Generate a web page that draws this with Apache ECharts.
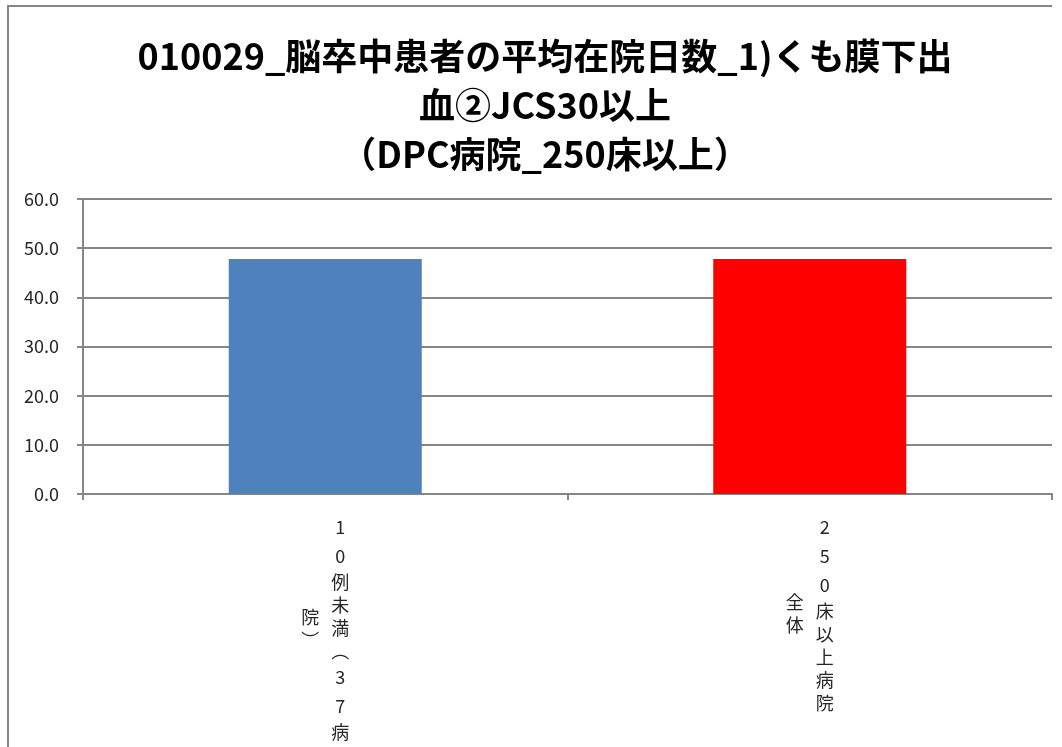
<!DOCTYPE html>
<html>
<head>
<meta charset="utf-8">
<script src="https://cdn.jsdelivr.net/npm/echarts@6/dist/echarts.min.js"></script>
<style>
  html, body { margin: 0; padding: 0; background: #fff; }
  #chart { width: 1062px; height: 747px; }
</style>
</head>
<body>
<div id="chart"></div>
<script>
// data
var titleLines = ['010029_脳卒中患者の平均在院日数_1)くも膜下出', '血②JCS30以上', '（DPC病院_250床以上）'];
var categories = ['10例未満（37病院）', '250床以上病院 全体'];
var values = [47.8, 47.8];
var barColors = ['#4F81BD', '#FF0000'];
var yTicks = [0, 10, 20, 30, 40, 50, 60];

var FONT = '"Noto Sans CJK JP", "Noto Sans", sans-serif';
var AXIS_COLOR = '#868686';
var TEXT_COLOR = '#262626';
var COL_LEN = 9;      // chars per vertical column
var LH_DIGIT = 29;
var LH_CJK = 23;

// vertical text: brackets turn into their vertical forms
function vert(ch) {
  if (ch === '（' || ch === '(') return '︵';
  if (ch === '）' || ch === ')') return '︶';
  return ch;
}
function isNarrow(ch) { return /[0-9A-Za-z]/.test(ch); }
function colHeight(chars) {
  return chars.reduce(function (s, ch) { return s + (isNarrow(ch) ? LH_DIGIT : LH_CJK); }, 0);
}
function columns(label) {
  var chars = label.split('');
  var right = chars.slice(0, COL_LEN).join('').trim().split('');
  var left = chars.slice(COL_LEN).join('').trim().split('');
  return { right: right, left: left };
}
function colText(chars) {
  return chars.map(function (ch) {
    return (isNarrow(ch) ? '{d|' : '{c|') + vert(ch) + '}';
  }).join('\n');
}

var baseRich = {
  d: { fontSize: 18, lineHeight: LH_DIGIT, color: TEXT_COLOR, fontFamily: FONT, align: 'center' },
  c: { fontSize: 18, lineHeight: LH_CJK, color: TEXT_COLOR, fontFamily: FONT, align: 'center' }
};
// spacer rows so the second column sits in the middle of the first
var leftRich = Object.assign({}, baseRich);
categories.forEach(function (cat, i) {
  var cols = columns(cat);
  var gap = Math.max(1, (colHeight(cols.right) - colHeight(cols.left)) / 2);
  leftRich['sp' + i] = { fontSize: 1, lineHeight: gap, height: gap };
});

var chart = echarts.init(document.getElementById('chart'));
chart.setOption({
  backgroundColor: '#fff',
  animation: false,
  title: {
    text: titleLines.join('\n'),
    left: 540,
    top: 27,
    textAlign: 'center',
    textStyle: {
      fontFamily: FONT,
      fontSize: 36,
      fontWeight: 'bold',
      lineHeight: 49,
      color: '#000'
    }
  },
  graphic: [{
    type: 'polyline',
    shape: { points: [[8, 747], [8, 6], [1052, 6]] },
    style: { stroke: AXIS_COLOR, lineWidth: 2, fill: null },
    silent: true
  }],
  grid: { left: 83, right: 10, top: 199, bottom: 253, outerBoundsMode: 'none' },
  xAxis: [{
    type: 'category',
    data: categories,
    position: 'bottom',
    axisLine: { lineStyle: { color: AXIS_COLOR, width: 2 } },
    axisTick: { show: true, length: 6, lineStyle: { color: AXIS_COLOR, width: 2 } },
    axisLabel: {
      interval: 0,
      margin: 19,
      padding: [0, 0, 0, 30],
      formatter: function (v) { return colText(columns(v).right); },
      rich: baseRich
    }
  }, {
    type: 'category',
    data: categories,
    position: 'bottom',
    offset: 0,
    axisLine: { show: false },
    axisTick: { show: false },
    splitLine: { show: false },
    axisLabel: {
      interval: 0,
      margin: 19,
      padding: [0, 30, 0, 0],
      formatter: function (v, i) {
        return '{sp' + i + '| }\n' + colText(columns(v).left);
      },
      rich: leftRich
    }
  }],
  yAxis: {
    type: 'value',
    min: yTicks[0],
    max: yTicks[yTicks.length - 1],
    interval: 10,
    axisLine: { show: true, lineStyle: { color: AXIS_COLOR, width: 2 } },
    axisTick: { show: true, length: 6, lineStyle: { color: AXIS_COLOR, width: 2 } },
    splitLine: { lineStyle: { color: AXIS_COLOR, width: 2 } },
    axisLabel: {
      margin: 24,
      fontSize: 18,
      fontFamily: FONT,
      color: TEXT_COLOR,
      formatter: function (v) { return v.toFixed(1); }
    }
  },
  series: [{
    type: 'bar',
    xAxisIndex: 0,
    barWidth: 193,
    data: values.map(function (v, i) {
      return { value: v, itemStyle: { color: barColors[i] } };
    })
  }]
});
</script>
</body>
</html>
